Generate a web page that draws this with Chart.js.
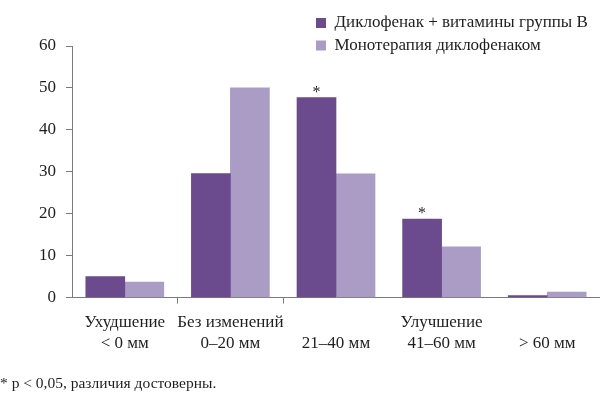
<!DOCTYPE html>
<html>
<head>
<meta charset="utf-8">
<script src="https://cdn.jsdelivr.net/npm/chart.js@4.4.1/dist/chart.umd.min.js"></script>
<style>
  html, body { margin: 0; padding: 0; background: #fff; }
  #wrap { width: 600px; height: 398px; position: relative; }
</style>
</head>
<body>
<div id="wrap"><canvas id="grafico"></canvas></div>
<script>
// dados do grafico
const categorias = [
    ['Ухудшение', '< 0 мм'],
    ['Без изменений', '0–20 мм'],
    ['', '21–40 мм'],
    ['Улучшение', '41–60 мм'],
    ['', '> 60 мм']
];
const comVitaminas = [5, 29.6, 47.7, 18.7, 0.5];
const monoterapia = [3.7, 50, 29.5, 12.1, 1.3];
const significativo = [false, false, true, true, false];
const ticksY = [0, 10, 20, 30, 40, 50, 60];
const nomes = ['Диклофенак + витамины группы В', 'Монотерапия диклофенаком'];
const nota = '* p < 0,05, различия достоверны.';

const corEscura = '#6b4a8d';
const corClara = '#ab9cc5';
const corEixo = '#7a7a7a';
const corTexto = '#1e1e1e';

Chart.defaults.font.family = '"Liberation Serif", "DejaVu Serif", serif';
Chart.defaults.color = corTexto;

// asteriscos sobre as barras significativas
const asteriscos = {
    id: 'asteriscos',
    afterDatasetsDraw(chart) {
        const meta = chart.getDatasetMeta(0);
        const ctx = chart.ctx;
        ctx.save();
        ctx.font = '16px "Liberation Serif", serif';
        ctx.fillStyle = corTexto;
        ctx.textAlign = 'center';
        ctx.textBaseline = 'alphabetic';
        meta.data.forEach(function (bar, i) {
            if (significativo[i]) ctx.fillText('*', bar.x, bar.y - 1);
        });
        ctx.restore();
    }
};

// legenda no canto superior direito, em duas linhas
const legendaLado = {
    id: 'legendaLado',
    afterLayout(chart) {
        const lg = chart.legend;
        lg.left = 310.5;
        lg.right = 600;
        lg.width = 289.5;
        lg.top = 9;
        lg.bottom = 60;
        lg.height = 51;
    }
};

const grafico = new Chart(document.getElementById('grafico'), {
    type: 'bar',
    data: {
        labels: categorias,
        datasets: [
            {
                label: nomes[0],
                data: comVitaminas,
                backgroundColor: corEscura,
                borderColor: corEscura,
                borderWidth: 0,
                barThickness: 39
            },
            {
                label: nomes[1],
                data: monoterapia,
                backgroundColor: corClara,
                borderColor: corClara,
                borderWidth: 0,
                barThickness: 39
            }
        ]
    },
    plugins: [asteriscos, legendaLado],
    options: {
        responsive: true,
        maintainAspectRatio: false,
        animation: false,
        layout: { padding: { top: 13.5, left: 0, right: 0, bottom: 0 } },
        plugins: {
            tooltip: { enabled: false },
            legend: {
                position: 'top',
                align: 'start',
                labels: {
                    boxWidth: 10,
                    boxHeight: 10,
                    padding: 5.5,
                    font: { size: 17 },
                    color: corTexto
                }
            },
            title: {
                display: true,
                text: nota,
                position: 'bottom',
                align: 'start',
                color: corTexto,
                font: { size: 15.5, weight: 'normal' },
                padding: { top: 12, bottom: 5 }
            }
        },
        scales: {
            x: {
                offset: true,
                grid: {
                    offset: true,
                    drawOnChartArea: false,
                    drawTicks: true,
                    tickLength: 6,
                    color: function (ctx) {
                        return (ctx.index === undefined || ctx.index === 1 || ctx.index === 2) ? corEixo : 'rgba(0,0,0,0)';
                    }
                },
                border: { display: true, color: corEixo, width: 1 },
                ticks: {
                    maxRotation: 0,
                    autoSkip: false,
                    padding: 9,
                    font: { size: 17 },
                    color: corTexto
                }
            },
            y: {
                min: 0,
                max: 60,
                afterBuildTicks: function (scale) {
                    scale.ticks = ticksY.map(function (v) { return { value: v }; });
                },
                afterFit: function (scale) {
                    scale.width = 72;
                },
                grid: {
                    drawOnChartArea: false,
                    drawTicks: true,
                    tickLength: 6,
                    color: corEixo
                },
                border: { display: true, color: corEixo, width: 1 },
                ticks: {
                    padding: 10,
                    font: { size: 17 },
                    color: corTexto
                }
            }
        }
    }
});
</script>
</body>
</html>
